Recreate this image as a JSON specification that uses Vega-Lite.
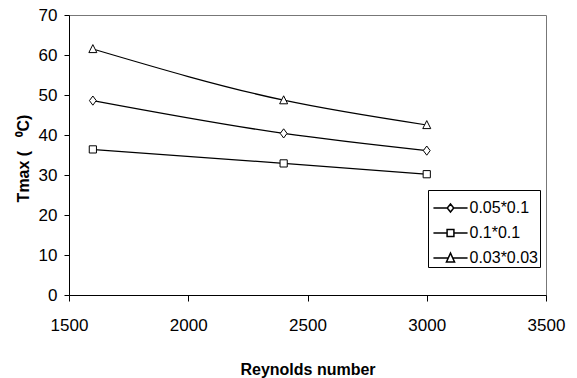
{
  "$schema": "https://vega.github.io/schema/vega-lite/v6.json",
  "autosize": "none",
  "width": 477,
  "height": 280,
  "padding": {"left": 69, "top": 15, "right": 31, "bottom": 83},
  "background": "white",
  "config": {
    "view": {"stroke": "#777777", "strokeWidth": 1},
    "font": "Liberation Sans"
  },
  "data": {
    "values": [
      {"re": 1600, "tmax": 48.6, "size": "0.05*0.1"},
      {"re": 2400, "tmax": 40.4, "size": "0.05*0.1"},
      {"re": 3000, "tmax": 36.1, "size": "0.05*0.1"},
      {"re": 1600, "tmax": 36.4, "size": "0.1*0.1"},
      {"re": 2400, "tmax": 32.9, "size": "0.1*0.1"},
      {"re": 3000, "tmax": 30.2, "size": "0.1*0.1"},
      {"re": 1600, "tmax": 61.5, "size": "0.03*0.03"},
      {"re": 2400, "tmax": 48.7, "size": "0.03*0.03"},
      {"re": 3000, "tmax": 42.5, "size": "0.03*0.03"}
    ]
  },
  "encoding": {
    "x": {
      "field": "re",
      "type": "quantitative",
      "scale": {"domain": [1500, 3500], "nice": false},
      "axis": {
        "values": [1500, 2000, 2500, 3000, 3500],
        "format": "d",
        "grid": false,
        "domainColor": "black",
        "tickColor": "black",
        "tickSize": 6,
        "labelFont": "Liberation Sans",
        "labelFontSize": 17,
        "labelColor": "black",
        "labelPadding": 16,
        "labelOverlap": false,
        "labelBound": false,
        "labelFlush": false,
        "title": "Reynolds number",
        "titleFont": "Liberation Sans",
        "titleFontSize": 16,
        "titleFontWeight": "bold",
        "titleColor": "black",
        "titleBaseline": "alphabetic",
        "titleY": 79
      }
    },
    "y": {
      "field": "tmax",
      "type": "quantitative",
      "scale": {"domain": [0, 70], "nice": false},
      "axis": {
        "values": [0, 10, 20, 30, 40, 50, 60, 70],
        "format": "d",
        "grid": false,
        "domainColor": "black",
        "tickColor": "black",
        "tickSize": 5,
        "labelFont": "Liberation Sans",
        "labelFontSize": 17,
        "labelColor": "black",
        "labelPadding": 7,
        "labelOverlap": false,
        "labelBound": false,
        "labelFlush": false,
        "title": "Tmax (\u00a0\u00a0\u00a0⁰C)",
        "titleFont": "Liberation Sans",
        "titleFontSize": 16,
        "titleFontWeight": "bold",
        "titleColor": "black",
        "titleAngle": -90,
        "titleAlign": "center",
        "titleBaseline": "alphabetic",
        "titleX": -41,
        "titleY": 143
      }
    }
  },
  "layer": [
    {
      "mark": {"type": "line", "color": "black", "strokeWidth": 1.25, "interpolate": "monotone"},
      "encoding": {"detail": {"field": "size"}}
    },
    {
      "mark": {"type": "point", "filled": true, "fill": "white", "stroke": "black", "strokeWidth": 1, "size": 64, "opacity": 1},
      "encoding": {
        "shape": {
          "field": "size",
          "type": "nominal",
          "scale": {
            "domain": ["0.05*0.1", "0.1*0.1", "0.03*0.03"],
            "range": [
              "M0,-1.15L0.85,0L0,1.15L-0.85,0Z",
              "M-0.9,-0.9H0.9V0.9H-0.9Z",
              "M0,-1.1L1,0.9H-1Z"
            ]
          },
          "legend": null
        }
      }
    },
    {
      "transform": [{"filter": "datum.re < 0"}],
      "mark": {"type": "point", "filled": true, "fill": "white", "stroke": "black", "strokeWidth": 1, "size": 64, "opacity": 1},
      "encoding": {
        "shape": {
          "field": "size",
          "type": "nominal",
          "scale": {
            "domain": ["0.05*0.1", "0.1*0.1", "0.03*0.03"],
            "range": [
              "M-1.05,0H-0.2M0.2,0H1.05M0,-0.25L0.2,0L0,0.25L-0.2,0Z",
              "M-1.05,0H-0.21M0.21,0H1.05M-0.21,-0.21H0.21V0.21H-0.21Z",
              "M-1.05,0H-0.14M0.14,0H1.05M0,-0.3L0.25,0.25H-0.25Z"
            ]
          },
          "legend": {
            "title": null,
            "orient": "none",
            "legendX": 359,
            "legendY": 175,
            "direction": "vertical",
            "padding": 1,
            "strokeColor": "black",
            "fillColor": "white",
            "rowPadding": 0,
            "symbolSize": 1056,
            "symbolOffset": 4.5,
            "labelFont": "Liberation Sans",
            "labelFontSize": 16,
            "labelColor": "black",
            "labelOffset": 2,
            "labelLimit": 200
          }
        }
      }
    }
  ],
  "resolve": {"scale": {"shape": "independent"}, "legend": {"shape": "independent"}}
}
